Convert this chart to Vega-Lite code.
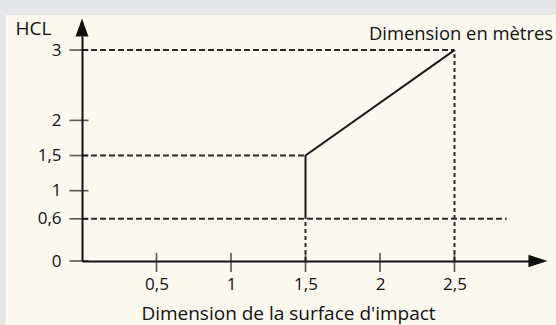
{
  "$schema": "https://vega.github.io/schema/vega-lite/v6.json",
  "width": 447,
  "height": 225,
  "autosize": {"type": "none"},
  "padding": {"left": 82, "top": 36, "right": 27, "bottom": 64},
  "background": "#e4e6e9",
  "config": {"view": {"stroke": null}, "font": "Open Sans"},
  "title": {
    "text": "Dimension en mètres",
    "anchor": "end",
    "frame": "group",
    "offset": 0,
    "dx": 24,
    "dy": 28,
    "fontSize": 18.4,
    "fontWeight": "normal",
    "color": "#111111"
  },
  "datasets": {
    "panel": [{"x": -0.51, "x2": 3.3, "y": 3.5, "y2": -1}],
    "dashes": [
      {"x": 0, "x2": 2.5, "y": 3, "y2": 3},
      {"x": 0, "x2": 1.5, "y": 1.5, "y2": 1.5},
      {"x": 0, "x2": 2.85, "y": 0.6, "y2": 0.6}
    ],
    "vdashes": [
      {"x": 2.5, "x2": 2.5, "y": 0, "y2": 3},
      {"x": 1.5, "x2": 1.5, "y": 0, "y2": 0.6}
    ],
    "curve": [
      {"x": 1.5, "y": 0.6},
      {"x": 1.5, "y": 1.5},
      {"x": 2.5, "y": 3}
    ],
    "yticks": [{"x": 0, "y": 0}, {"x": 0, "y": 0.6}, {"x": 0, "y": 1}, {"x": 0, "y": 1.5}, {"x": 0, "y": 2}, {"x": 0, "y": 3}],
    "xticks": [{"x": 0.5, "y": 0}, {"x": 1, "y": 0}, {"x": 1.5, "y": 0}, {"x": 2, "y": 0}, {"x": 2.5, "y": 0}],
    "yarrow": [{"x": 0, "y": 3.32}],
    "xarrow": [{"x": 3.06, "y": 0}]
  },
  "encoding": {
    "x": {"field": "x", "type": "quantitative", "scale": {"domain": [0, 3], "nice": false, "zero": false},
      "axis": {
        "zindex": 2,
        "title": "Dimension de la surface d'impact",
        "values": [0.5, 1, 1.5, 2, 2.5],
        "format": "~g",
        "labelExpr": "replace(datum.label, '.', ',')",
        "labelFlush": false,
        "labelOverlap": false,
        "domain": true,
        "domainColor": "#111111",
        "domainWidth": 2,
        "ticks": true,
        "tickSize": 11,
        "tickOpacity": 0,
        "labelPadding": 4,
        "labelFontSize": 17,
        "labelColor": "#111111",
        "grid": false,
        "titleFontSize": 19,
        "titleFontWeight": "normal",
        "titleColor": "#111111",
        "titleX": 206,
        "titleY": 58,
        "titleAlign": "center",
        "titleBaseline": "alphabetic"
      }},
    "y": {"field": "y", "type": "quantitative", "scale": {"domain": [0, 3.2], "nice": false, "zero": false},
      "axis": {
        "zindex": 2,
        "title": "HCL",
        "titleAngle": 0,
        "titleAlign": "left",
        "titleBaseline": "alphabetic",
        "titleX": -67,
        "titleY": -2,
        "values": [0, 0.6, 1, 1.5, 2, 3],
        "format": "~g",
        "labelExpr": "replace(datum.label, '.', ',')",
        "labelFlush": false,
        "labelOverlap": false,
        "domain": true,
        "domainColor": "#111111",
        "domainWidth": 2,
        "ticks": true,
        "tickSize": 13,
        "tickOpacity": 0,
        "labelPadding": 8,
        "labelFontSize": 17,
        "labelColor": "#111111",
        "grid": false,
        "titleFontSize": 19,
        "titleFontWeight": "normal",
        "titleColor": "#111111"
      }}
  },
  "layer": [
    {
      "data": {"name": "panel"},
      "mark": {"type": "rect", "color": "#fbf8ed", "clip": false},
      "encoding": {"x2": {"field": "x2"}, "y2": {"field": "y2"}}
    },
    {
      "data": {"name": "dashes"},
      "mark": {"type": "rule", "color": "#2a2a2a", "strokeWidth": 2, "strokeDash": [6, 3]},
      "encoding": {"x2": {"field": "x2"}, "y2": {"field": "y2"}}
    },
    {
      "data": {"name": "vdashes"},
      "mark": {"type": "rule", "color": "#2a2a2a", "strokeWidth": 2, "strokeDash": [4, 3]},
      "encoding": {"x2": {"field": "x2"}, "y2": {"field": "y2"}}
    },
    {
      "data": {"name": "curve"},
      "mark": {"type": "line", "color": "#1a1a1a", "strokeWidth": 2},
      "encoding": {"order": {"field": "y"}}
    },
    {
      "data": {"name": "yticks"},
      "mark": {"type": "tick", "orient": "horizontal", "color": "#111111", "size": 19, "thickness": 1.6, "xOffset": -3, "clip": false},
      "encoding": {}
    },
    {
      "data": {"name": "xticks"},
      "mark": {"type": "tick", "orient": "vertical", "color": "#111111", "size": 19, "thickness": 1.6, "yOffset": 1.5, "clip": false},
      "encoding": {}
    },
    {
      "data": {"name": "yarrow"},
      "mark": {"type": "point", "shape": "M0,-1L0.72,1L-0.72,1Z", "size": 324, "filled": true, "color": "#111111", "opacity": 1, "clip": false},
      "encoding": {}
    },
    {
      "data": {"name": "xarrow"},
      "mark": {"type": "point", "shape": "M1,0L-1,0.66L-1,-0.66Z", "size": 361, "filled": true, "color": "#111111", "opacity": 1, "clip": false},
      "encoding": {}
    }
  ]
}
